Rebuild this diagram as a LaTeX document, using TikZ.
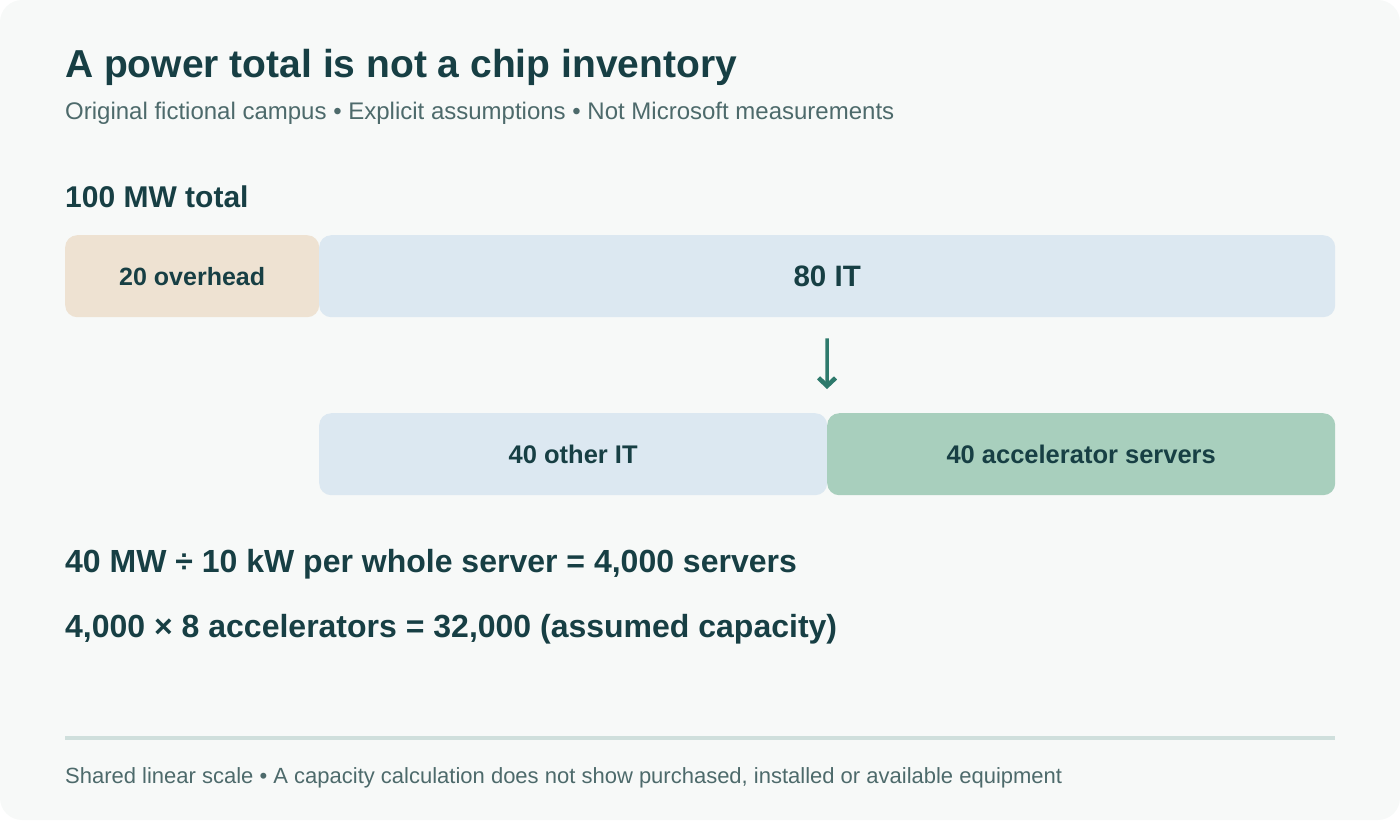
\documentclass[tikz,border=0pt]{standalone}
\usepackage{fontspec}
\setmainfont{Liberation Sans}
\usetikzlibrary{arrows.meta}

\definecolor{page}{HTML}{F7F9F8}
\definecolor{ink}{HTML}{173F44}
\definecolor{muted}{HTML}{4D6A6B}
\definecolor{overheadfill}{HTML}{EEE2D2}
\definecolor{itfill}{HTML}{DCE8F1}
\definecolor{accelfill}{HTML}{A8CFBD}
\definecolor{arrowcol}{HTML}{2E7A6C}
\definecolor{rulecol}{HTML}{CFDFDC}

\begin{document}
\begin{tikzpicture}[x=1pt,y=-1pt,
    bar/.style={rounded corners=12pt, minimum height=82pt, inner sep=0pt, anchor=north west,
      text=ink, font=\bfseries\fontsize{25.5}{30}\selectfont},
    lead/.style={anchor=base west, inner sep=0pt, text=ink},
    note/.style={anchor=base west, inner sep=0pt, text=muted}]
    \fill[page, rounded corners=22pt] (0,0) rectangle (1400,820);
    \useasboundingbox (0,0) rectangle (1400,820);

    \node[lead, font=\bfseries\fontsize{39}{46}\selectfont] (title) at (65,77) {A power total is not a chip inventory};
    \node[note, font=\fontsize{24}{28}\selectfont] (subtitle) at (65,119) {Original fictional campus • Explicit assumptions • Not Microsoft measurements};
    \node[lead, font=\bfseries\fontsize{30}{36}\selectfont] (total) at (65,207) {100 MW total};

    % 100 MW over 1270pt, 12.7pt per MW
    \node[bar, fill=overheadfill, minimum width=254pt, font=\bfseries\fontsize{25}{30}\selectfont] (overhead) at (65,235) {20 overhead};
    \node[bar, fill=itfill, minimum width=1016pt, font=\bfseries\fontsize{29.5}{35}\selectfont] (it) at (319,235) {80 IT};

    \node[bar, fill=itfill, minimum width=508pt] (otherit) at (319,413) {40 other IT};
    \node[bar, fill=accelfill, minimum width=508pt] (accel) at (827,413) {40 accelerator servers};

    \draw[arrowcol, line width=3.5pt, -{Straight Barb[length=8pt,width=17pt,line width=4.5pt]}]
      ([yshift=-21pt]it.south) -- ([yshift=24pt]accel.north west);

    \node[lead, font=\bfseries\fontsize{32}{38}\selectfont] (servers) at (65,572) {40 MW ÷ 10 kW per whole server = 4,000 servers};
    \node[lead, font=\bfseries\fontsize{32}{38}\selectfont] (chips) at (65,637) {4,000 × 8 accelerators = 32,000 (assumed capacity)};

    \coordinate (ruleL) at (65,738);
    \coordinate (ruleR) at (1335,738);
    \draw[rulecol, line width=3.5pt] (ruleL) -- (ruleR);
    \node[note, font=\fontsize{22}{26}\selectfont] (footer) at (65,783) {Shared linear scale • A capacity calculation does not show purchased, installed or available equipment};
\end{tikzpicture}
\end{document}
